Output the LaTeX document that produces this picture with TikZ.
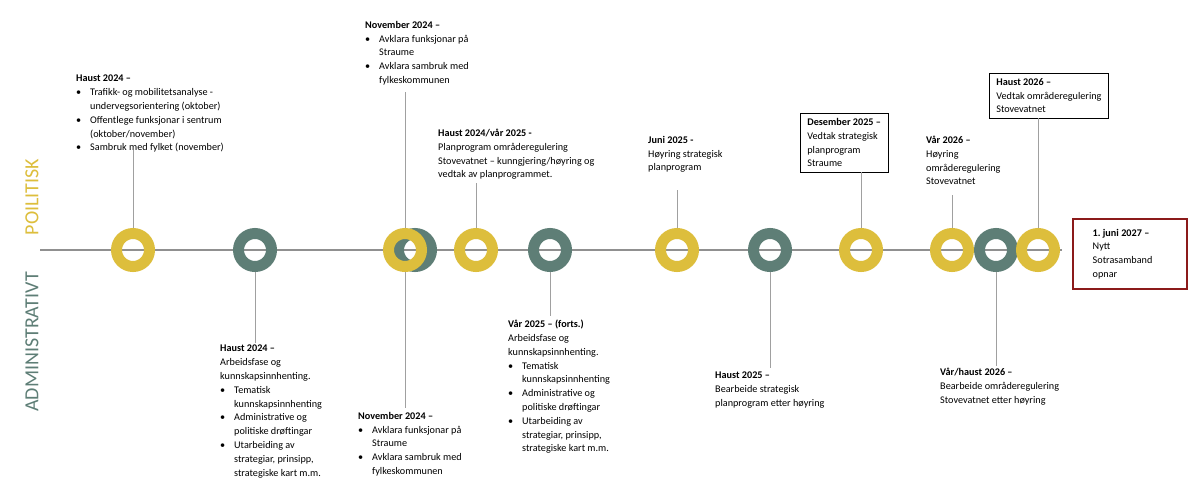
\documentclass[tikz,border=0pt]{standalone}
\usepackage{fontspec}
\setmainfont{Carlito}
\definecolor{yel}{HTML}{DDBE3C}
\definecolor{grn}{HTML}{5E7E76}
\definecolor{stem}{HTML}{A0A0A0}
\definecolor{dred}{HTML}{8B1A1A}
\newcommand{\bi}[1]{\makebox[14pt][l]{\textbullet}#1}
\newcommand{\bc}[1]{\hspace*{14pt}#1}
\begin{document}
\begin{tikzpicture}[x=1pt,y=-1pt,
  ring/.style={circle,draw=#1,line width=11pt,minimum size=33pt,inner sep=0},
  txt/.style={anchor=north west,inner sep=0,align=left,font=\fontsize{10.2}{13.8}\selectfont},
  sbox/.style={anchor=north west,draw,line width=0.7pt,inner xsep=7pt,inner ysep=5pt,align=left,font=\fontsize{10.2}{13.8}\selectfont},
  stemline/.style={draw=stem,line width=1pt}]
\useasboundingbox (0,0) rectangle (1200,503);
\fill[white] (0,0) rectangle (1200,503);
% side labels
\node[rotate=90,text=yel,font=\fontsize{20}{20}\selectfont] (pol) at (32,197) {POILITISK};
\node[rotate=90,text=grn,font=\fontsize{20}{20}\selectfont] (adm) at (32,342) {ADMINISTRATIVT};
% timeline
\coordinate (ls) at (40,250);
\coordinate (le) at (1062,250);
\draw[stem!90!black,line width=1.4pt] (ls) -- (le);
% rings
\node[ring=yel] (r1) at (133,250) {};
\node[ring=grn] (r2) at (255,250) {};
\node[ring=grn] (r3b) at (415,250) {};
\node[ring=yel] (r3) at (405,250) {};
\node[ring=yel] (r4) at (476,250) {};
\node[ring=grn] (r5) at (550,250) {};
\node[ring=yel] (r6) at (677,250) {};
\node[ring=grn] (r7) at (770,250) {};
\node[ring=yel] (r8) at (861,250) {};
\node[ring=yel] (r9) at (952,250) {};
\node[ring=grn] (r10) at (996,250) {};
\node[ring=yel] (r11) at (1038,250) {};
% top texts
\node[txt] (t1) at (76,75) {\textbf{Haust 2024 –}\\
\bi{Trafikk- og mobilitetsanalyse -}\\\bc{undervegsorientering (oktober)}\\
\bi{Offentlege funksjonar i sentrum}\\\bc{(oktober/november)}\\
\bi{Sambruk med fylket (november)}};
\node[txt] (t3) at (365,21) {\textbf{November 2024 –}\\
\bi{Avklara funksjonar på}\\\bc{Straume}\\
\bi{Avklara sambruk med}\\\bc{fylkeskommunen}};
\node[txt] (t4) at (438,129) {\textbf{Haust 2024/vår 2025 -}\\
Planprogram områderegulering\\Stovevatnet – kunngjering/høyring og\\vedtak av planprogrammet.};
\node[txt] (t6) at (648,136) {\textbf{Juni 2025 -}\\Høyring strategisk\\planprogram};
\node[sbox] (t8) at (800,113) {\textbf{Desember 2025 –}\\Vedtak strategisk\\planprogram\\Straume};
\node[txt] (t9) at (926,136) {\textbf{Vår 2026 –}\\Høyring\\områderegulering\\Stovevatnet};
\node[sbox] (t11) at (989,73) {\textbf{Haust 2026 –}\\Vedtak områderegulering\\Stovevatnet\hspace*{6pt}};
\node[sbox,draw=dred,line width=2pt,minimum width=114pt,minimum height=70pt] (t12) at (1072,218) {\textbf{1.\ juni 2027 –}\hspace*{18pt}\\Nytt\\Sotrasamband\\opnar};
% bottom texts
\node[txt] (t2) at (220,345) {\textbf{Haust 2024 –}\\Arbeidsfase og\\kunnskapsinnhenting.\\
\bi{Tematisk}\\\bc{kunnskapsinnhenting}\\
\bi{Administrative og}\\\bc{politiske drøftingar}\\
\bi{Utarbeiding av}\\\bc{strategiar, prinsipp,}\\\bc{strategiske kart m.m.}};
\node[txt] (t3b) at (358,412) {\textbf{November 2024 –}\\
\bi{Avklara funksjonar på}\\\bc{Straume}\\
\bi{Avklara sambruk med}\\\bc{fylkeskommunen}};
\node[txt] (t5) at (508,320) {\textbf{Vår 2025 – (forts.)}\\Arbeidsfase og\\kunnskapsinnhenting.\\
\bi{Tematisk}\\\bc{kunnskapsinnhenting}\\
\bi{Administrative og}\\\bc{politiske drøftingar}\\
\bi{Utarbeiding av}\\\bc{strategiar, prinsipp,}\\\bc{strategiske kart m.m.}};
\node[txt] (t7) at (715,372) {\textbf{Haust 2025 –}\\Bearbeide strategisk\\planprogram etter høyring};
\node[txt] (t10) at (940,368) {\textbf{Vår/haust 2026 –}\\Bearbeide områderegulering\\Stovevatnet etter høyring};
% stems
\draw[stemline] (r1.north) -- (r1.north |- 0,150);
\draw[stemline] (r3.north) -- (r3.north |- 0,92);
\draw[stemline] (r4.north) -- (r4.north |- 0,183);
\draw[stemline] (r6.north) -- (r6.north |- 0,190);
\draw[stemline] (r8.north) -- (r8.north |- t8.south);
\draw[stemline] (r9.north) -- (r9.north |- 0,195);
\draw[stemline] (r11.north) -- (r11.north |- t11.south);
\draw[stemline] (r2.south) -- (r2.south |- 0,343);
\draw[stemline] (r3.south) -- (r3.south |- 0,408);
\draw[stemline] (r5.south) -- (r5.south |- 0,316);
\draw[stemline] (r7.south) -- (r7.south |- 0,368);
\draw[stemline] (r10.south) -- (r10.south |- 0,366);
\end{tikzpicture}
\end{document}
